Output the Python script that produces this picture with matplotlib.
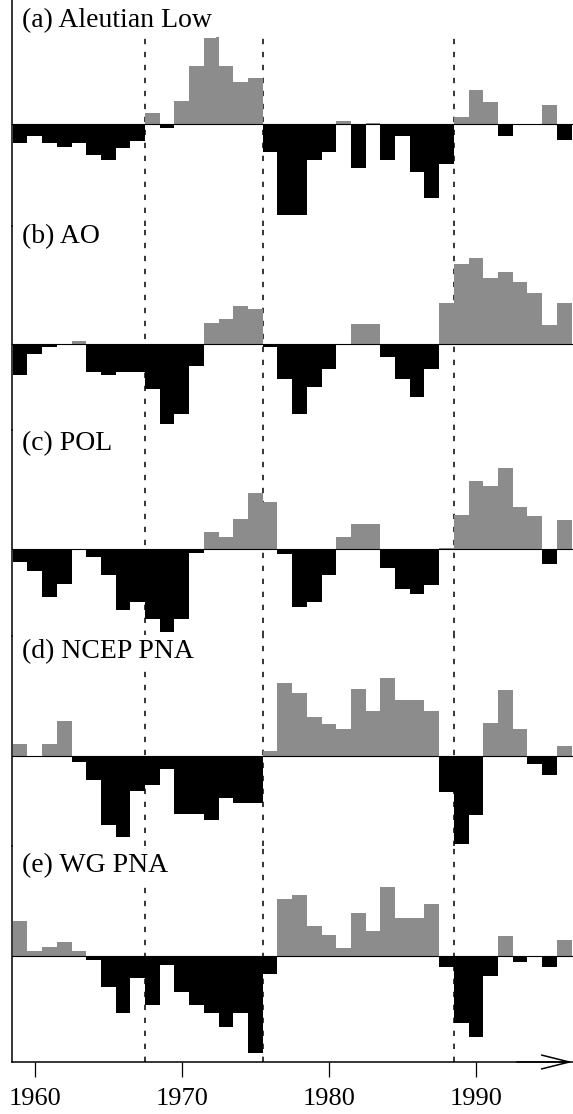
import numpy as np
import matplotlib
matplotlib.use('Agg')
import matplotlib.pyplot as plt

plt.rcParams['font.family'] = ['Liberation Serif', 'DejaVu Serif']

# winters 1959-1996, standardized anomalies
years = np.arange(1959, 1997)

aleutian_low = [-0.48, -0.30, -0.48, -0.58, -0.48, -0.78, -0.90, -0.61, -0.42, 0.28,
                -0.11, 0.58, 1.45, 2.18, 1.45, 1.05, 1.15, -0.71, -2.28, -2.28,
                -0.90, -0.69, 0.08, -1.09, 0.03, -0.90, -0.31, -1.19, -1.86, -0.99,
                0.17, 0.85, 0.56, -0.31, 0.0, 0.0, 0.48, -0.40]
ao = [-0.78, -0.25, -0.08, -0.02, 0.08, -0.70, -0.78, -0.70, -0.70, -1.13,
      -2.00, -1.75, -0.55, 0.53, 0.63, 0.95, 0.88, -0.08, -0.88, -1.75,
      -1.08, -0.63, 0.0, 0.50, 0.50, -0.33, -0.88, -1.33, -0.63, 1.03,
      2.00, 2.15, 1.65, 1.80, 1.55, 1.28, 0.48, 1.03]
pol = [-0.33, -0.55, -1.20, -0.88, 0.0, -0.20, -0.65, -1.53, -1.33, -1.75,
       -2.08, -1.75, -0.10, 0.43, 0.30, 0.75, 1.40, 1.18, -0.13, -1.45,
       -1.33, -0.65, 0.30, 0.63, 0.63, -0.48, -1.00, -1.13, -0.90, 0.03,
       0.85, 1.70, 1.58, 2.03, 1.05, 0.83, -0.38, 0.73]
ncep_pna = [0.30, 0.0, 0.30, 0.88, -0.15, -0.60, -1.73, -2.03, -0.88, -0.73,
            -0.33, -1.45, -1.45, -1.60, -1.05, -1.18, -1.18, 0.13, 1.83, 1.58,
            0.98, 0.80, 0.68, 1.68, 1.13, 1.95, 1.40, 1.40, 1.13, -0.90,
            -2.20, -1.48, 0.83, 1.65, 0.68, -0.20, -0.48, 0.25]
wg_pna = [0.88, 0.13, 0.23, 0.35, 0.13, -0.10, -0.78, -1.43, -0.55, -1.23,
          -0.23, -0.90, -1.23, -1.43, -1.78, -1.43, -2.43, -0.45, 1.43, 1.53,
          0.75, 0.53, 0.20, 1.08, 0.63, 1.73, 0.95, 0.95, 1.30, -0.28,
          -1.68, -2.03, -0.50, 0.50, -0.15, -0.03, -0.28, 0.40]

series = [aleutian_low, ao, pol, ncep_pna, wg_pna]
titles = ['(a) Aleutian Low', '(b) AO', '(c) POL', '(d) NCEP PNA', '(e) WG PNA']
regime_shifts = [1967.5, 1975.5, 1988.5]
tick_years = [1960, 1970, 1980, 1990]

# layout in pixels (figure is 573 x 1114)
W, H = 573, 1114
px_per_unit = 40.0
panel_top = [0, 226, 430, 636, 846]
panel_bot = [226, 430, 636, 846, 1062]
zero_px = [124, 344, 549, 756, 956]
label_px = [21, 237, 444, 652, 866]
spine_x = 12
xlim = (1958.45, 1996.6)

POS = '#8c8c8c'
NEG = '#000000'

fig = plt.figure(figsize=(W / 100, H / 100), dpi=100)

axes = []
for i, vals in enumerate(series):
    top, bot = panel_top[i], panel_bot[i]
    ax = fig.add_axes([spine_x / W, 1 - bot / H, (W - spine_x) / W, (bot - top) / H])
    axes.append(ax)
    vals = np.array(vals)
    colors = [POS if v > 0 else NEG for v in vals]
    ax.bar(years, vals, width=1.0, color=colors, linewidth=0, zorder=2)
    ax.axhline(0, color='black', linewidth=0.8, zorder=3)

    ax.set_xlim(*xlim)
    ax.set_ylim(-(bot - zero_px[i]) / px_per_unit, (zero_px[i] - top) / px_per_unit)

    # dashed lines marking the regime shifts
    ymax = 1 - 37 / (bot - top) if i == 0 else 1.0
    for xs in regime_shifts:
        ax.axvline(xs, ymin=0, ymax=ymax, color='black', linewidth=1.1,
                   dashes=(3.5, 5), zorder=1)

    ax.text(10 / (W - spine_x), 1 - (label_px[i] - top) / (bot - top), titles[i],
            transform=ax.transAxes, fontsize=20, ha='left', va='center', zorder=5,
            bbox=dict(facecolor='white', edgecolor='none', pad=3))

    for s in ['top', 'right', 'bottom']:
        ax.spines[s].set_visible(False)
    ax.spines['left'].set_linewidth(1.1)
    ax.set_yticks([])
    ax.patch.set_alpha(0)
    if i < len(series) - 1:
        ax.set_xticks([])

# bottom axis with arrow
ax = axes[-1]
ax.spines['bottom'].set_visible(True)
ax.spines['bottom'].set_linewidth(1.1)
ax.set_xticks(tick_years)
ax.set_xticklabels([str(y) for y in tick_years], fontsize=19)
ax.tick_params(axis='x', direction='out', length=11, width=0.9, pad=8)
ax.annotate('', xy=(0.999, 0), xycoords='axes fraction', xytext=(0.9, 0),
            textcoords='axes fraction',
            arrowprops=dict(arrowstyle='->,head_length=2.0,head_width=0.5',
                            lw=1.1, color='black', mutation_scale=10,
                            shrinkA=0, shrinkB=0),
            annotation_clip=False)

fig.savefig('out.png', dpi=100, facecolor='white')
